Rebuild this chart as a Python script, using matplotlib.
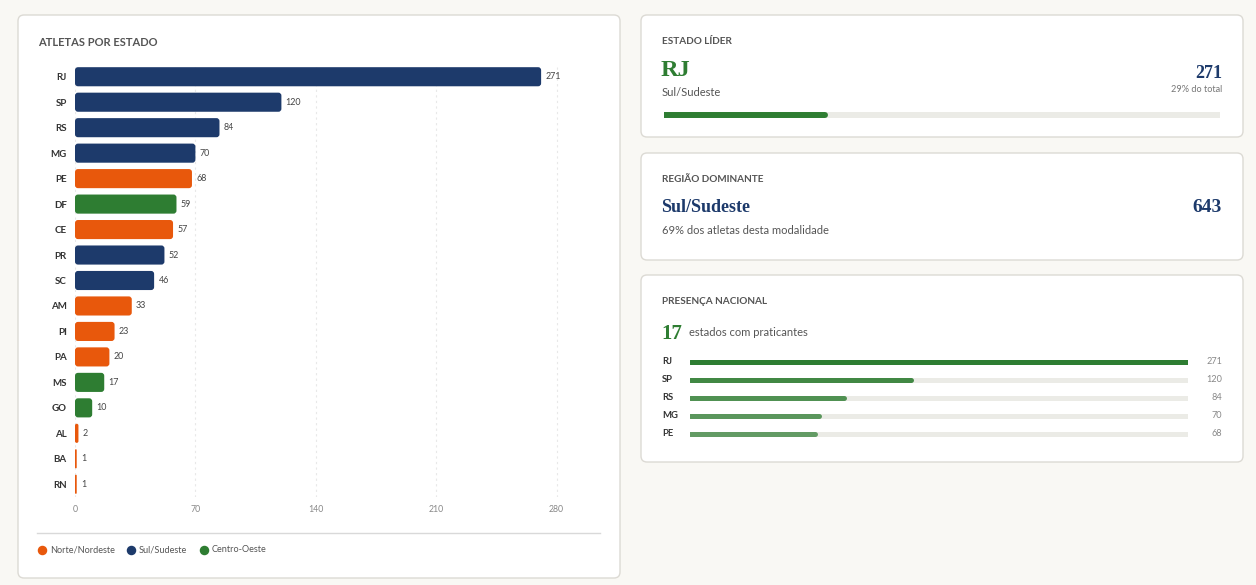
import matplotlib
matplotlib.use("Agg")
import matplotlib.pyplot as plt
from matplotlib.patches import FancyBboxPatch
from matplotlib.transforms import blended_transform_factory

# data
states = ["RJ", "SP", "RS", "MG", "PE", "DF", "CE", "PR", "SC", "AM", "PI", "PA", "MS", "GO", "AL", "BA", "RN"]
athletes = [271, 120, 84, 70, 68, 59, 57, 52, 46, 33, 23, 20, 17, 10, 2, 1, 1]
regions = ["Sul/Sudeste", "Sul/Sudeste", "Sul/Sudeste", "Sul/Sudeste", "Norte/Nordeste", "Centro-Oeste",
           "Norte/Nordeste", "Sul/Sudeste", "Sul/Sudeste", "Norte/Nordeste", "Norte/Nordeste",
           "Norte/Nordeste", "Centro-Oeste", "Centro-Oeste", "Norte/Nordeste", "Norte/Nordeste",
           "Norte/Nordeste"]
legend_regions = ["Norte/Nordeste", "Sul/Sudeste", "Centro-Oeste"]
x_ticks = [0, 70, 140, 210, 280]
top_n = 5

NAVY = "#1d3a6b"
ORANGE = "#e8580c"
GREEN = "#2e7d32"
region_colors = {"Norte/Nordeste": ORANGE, "Sul/Sudeste": NAVY, "Centro-Oeste": GREEN}

SANS = ["Lato", "DejaVu Sans"]
SERIF = ["Liberation Serif", "DejaVu Serif"]
plt.rcParams["font.family"] = SANS

W, H = 1256, 585
fig = plt.figure(figsize=(W / 100, H / 100), dpi=100)
fig.patch.set_facecolor("#f9f8f4")


def px_axes(l, t, r, b, z=2):
    a = fig.add_axes([l / W, 1 - b / H, (r - l) / W, (b - t) / H])
    a.set_zorder(z)
    a.patch.set_alpha(0)
    return a


# background layer in pixel coords
bg = fig.add_axes([0, 0, 1, 1])
bg.set_xlim(0, W)
bg.set_ylim(H, 0)
bg.axis("off")
bg.set_zorder(0)


def card(x0, y0, x1, y1):
    bg.add_patch(FancyBboxPatch((x0, y0), x1 - x0, y1 - y0,
                                boxstyle="round,pad=0,rounding_size=6",
                                fc="white", ec="#dcdad4", lw=1))


card(18, 15, 620, 578)
card(641, 15, 1243, 137)
card(641, 153, 1243, 260)
card(641, 275, 1243, 462)

total = sum(athletes)
region_tot = {r: sum(v for v, g in zip(athletes, regions) if g == r) for r in legend_regions}
dom_region = max(region_tot, key=region_tot.get)

# ---------------- left chart ----------------
label_kw = dict(fontsize=7.2, fontweight="bold", color="#555555")
bg.text(38, 42, "ATLETAS POR ESTADO", va="center", fontsize=8, fontweight="bold", color="#555555")

ax = px_axes(75, 64, 591, 497)
n = len(states)
bars = ax.barh(range(n), athletes, height=0.75, color=[region_colors[r] for r in regions])
ax.set_xlim(0, 300)
ax.set_ylim(n - 0.5, -0.5)
# rounded corners
ppx = 516 / 300.0
ppy = 433 / n
for b in bars:
    x, y, w, h = b.get_x(), b.get_y(), b.get_width(), b.get_height()
    rs = min(3 / ppx, w / 2)
    p = FancyBboxPatch((x, y), w, h, boxstyle=f"round,pad=0,rounding_size={rs}",
                       mutation_aspect=ppx / ppy, fc=b.get_facecolor(), ec="none", zorder=3)
    b.remove()
    ax.add_patch(p)
for i, v in enumerate(athletes):
    ax.text(v + 2.5, i, str(v), va="center", ha="left", fontsize=6.4, color="#444444")
ax.set_yticks(range(n))
ax.set_yticklabels(states, fontsize=7, fontweight="bold", color="#333333")
ax.set_xticks(x_ticks)
ax.set_xticklabels([str(t) for t in x_ticks], fontsize=6.3, color="#888888")
ax.tick_params(length=0)
ax.tick_params(axis="y", pad=6)
ax.tick_params(axis="x", pad=6)
for s in ax.spines.values():
    s.set_visible(False)
ax.grid(axis="x", color="#e8e8e8", ls=(0, (2, 3)), lw=0.8)
ax.set_axisbelow(True)

bg.plot([37, 600], [533, 533], color="#d9d9d9", lw=1)
lx = [42, 131, 204]
for x, r in zip(lx, legend_regions):
    bg.scatter([x], [550], s=34, color=region_colors[r], zorder=3)
    bg.text(x + 8, 550, r, va="center", ha="left", fontsize=6.6, color="#555555")

# ---------------- card 1: leader ----------------
lead = max(range(n), key=lambda i: athletes[i])
bg.text(662, 41, "ESTADO LÍDER", va="center", **label_kw)
bg.text(661, 71, states[lead], va="center", ha="left", fontsize=17.5, fontweight="bold",
        color=GREEN, family=SERIF)
bg.text(662, 92, regions[lead], va="center", ha="left", fontsize=8, color="#555555")
bg.text(1222, 73, str(athletes[lead]), va="center", ha="right", fontsize=13, fontweight="bold",
        color=NAVY, family=SERIF)
bg.text(1222, 90, f"{round(athletes[lead] / total * 100)}% do total", va="center", ha="right",
        fontsize=6.6, color="#777777")

axp = px_axes(664, 110, 1220, 120)
axp.plot([0, total], [0, 0], color="#ebebe6", lw=4.3, solid_capstyle="round")
axp.plot([0, athletes[lead]], [0, 0], color=GREEN, lw=4.3, solid_capstyle="round")
axp.set_xlim(0, total)
axp.set_ylim(-1, 1)
axp.axis("off")

# ---------------- card 2: dominant region ----------------
bg.text(662, 180, "REGIÃO DOMINANTE", va="center", **label_kw)
bg.text(661, 207, dom_region, va="center", ha="left", fontsize=13, fontweight="bold",
        color=NAVY, family=SERIF)
bg.text(1222, 208, str(region_tot[dom_region]), va="center", ha="right", fontsize=14,
        fontweight="bold", color=NAVY, family=SERIF)
bg.text(662, 231, f"{round(region_tot[dom_region] / total * 100)}% dos atletas desta modalidade",
        va="center", ha="left", fontsize=8, color="#555555")

# ---------------- card 3: national presence ----------------
bg.text(662, 301, "PRESENÇA NACIONAL", va="center", **label_kw)
bg.text(661, 334, str(n), va="center", ha="left", fontsize=15, fontweight="bold",
        color=GREEN, family=SERIF)
bg.text(689, 333, "estados com praticantes", va="center", ha="left", fontsize=8, color="#555555")

ax3 = px_axes(690, 353, 1188, 443)
mx = athletes[0]
alphas = [1.0, 0.9, 0.82, 0.77, 0.72]
tr = blended_transform_factory(bg.transData, ax3.transData)
for i in range(top_n):
    ax3.plot([0, mx], [i, i], color="#ebebe6", lw=3.6, solid_capstyle="round")
    ax3.plot([0, athletes[i]], [i, i], color=GREEN, alpha=alphas[i], lw=3.6, solid_capstyle="round")
    ax3.text(662, i, states[i], transform=tr, va="center", ha="left", fontsize=6.8,
             fontweight="bold", color="#333333")
    ax3.text(1222, i, str(athletes[i]), transform=tr, va="center", ha="right", fontsize=6.6,
             color="#888888")
ax3.set_xlim(0, mx)
ax3.set_ylim(top_n - 0.5, -0.5)
ax3.axis("off")

fig.savefig("out.png", dpi=100, facecolor=fig.get_facecolor())
